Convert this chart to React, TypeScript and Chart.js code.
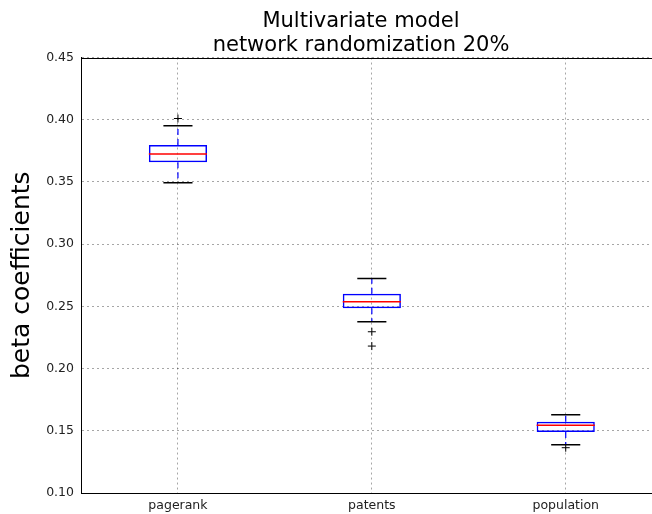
import React, { useEffect, useRef } from "react";
import { Chart, registerables } from "chart.js";

Chart.register(...registerables);

const categories = ["pagerank", "patents", "population"];
const q1 = [0.3658, 0.2484, 0.149];
const medians = [0.3724, 0.2537, 0.1544];
const q3 = [0.3797, 0.2601, 0.1573];
const whiskerLow = [0.3494, 0.2376, 0.1388];
const whiskerHigh = [0.3952, 0.2725, 0.1629];
const outlierCategory = [0, 1, 1, 2];
const outlierValues = [0.401, 0.2296, 0.2181, 0.1364];
const yTicks = [0.1, 0.15, 0.2, 0.25, 0.3, 0.35, 0.4, 0.45];

const FONT = "'DejaVu Sans', sans-serif";

const boxPlugin = {
  id: "boxParts",
  afterDatasetsDraw(chart: any) {
    const ctx = chart.ctx;
    const xs = chart.scales.x;
    const ys = chart.scales.y;
    const meta = chart.getDatasetMeta(0);
    ctx.save();
    categories.forEach((_, i) => {
      const bar: any = meta.data[i];
      const cx = xs.getPixelForValue(i + 1);
      const half = bar ? bar.width / 2 : 29;
      const capHalf = half / 2;
      ctx.strokeStyle = "#0000ff";
      ctx.lineWidth = 1.2;
      ctx.setLineDash([6, 4]);
      ctx.beginPath();
      ctx.moveTo(cx, ys.getPixelForValue(q3[i]));
      ctx.lineTo(cx, ys.getPixelForValue(whiskerHigh[i]));
      ctx.moveTo(cx, ys.getPixelForValue(q1[i]));
      ctx.lineTo(cx, ys.getPixelForValue(whiskerLow[i]));
      ctx.stroke();
      ctx.setLineDash([]);
      ctx.strokeStyle = "#000000";
      ctx.lineWidth = 1.5;
      ctx.beginPath();
      const yh = ys.getPixelForValue(whiskerHigh[i]);
      const yl = ys.getPixelForValue(whiskerLow[i]);
      ctx.moveTo(cx - capHalf, yh);
      ctx.lineTo(cx + capHalf, yh);
      ctx.moveTo(cx - capHalf, yl);
      ctx.lineTo(cx + capHalf, yl);
      ctx.stroke();
      ctx.strokeStyle = "#ff0000";
      ctx.lineWidth = 1.5;
      ctx.beginPath();
      const ym = ys.getPixelForValue(medians[i]);
      ctx.moveTo(cx - half, ym);
      ctx.lineTo(cx + half, ym);
      ctx.stroke();
    });
    ctx.restore();
  },
  afterDraw(chart: any) {
    const { ctx, chartArea } = chart;
    ctx.save();
    ctx.strokeStyle = "#000";
    ctx.lineWidth = 1;
    ctx.strokeRect(
      Math.round(chartArea.left) + 0.5,
      Math.round(chartArea.top) + 0.5,
      Math.round(chartArea.right - chartArea.left),
      Math.round(chartArea.bottom - chartArea.top)
    );
    ctx.restore();
  },
};

export default function App() {
  const ref = useRef<HTMLCanvasElement | null>(null);
  useEffect(() => {
    if (!ref.current) return;
    const chart = new Chart(ref.current, {
      type: "bar",
      data: {
        datasets: [
          {
            type: "bar",
            data: categories.map((_, i) => ({ x: i + 1, y: [q1[i], q3[i]] })) as any,
            backgroundColor: "rgba(0,0,0,0)",
            borderColor: "#0000ff",
            borderWidth: 1.5,
            borderSkipped: false,
            barPercentage: 0.3,
            categoryPercentage: 1,
          },
          {
            type: "scatter",
            data: outlierValues.map((v, i) => ({ x: outlierCategory[i] + 1, y: v })),
            pointStyle: "cross",
            pointRadius: 4,
            borderColor: "#000",
            backgroundColor: "#000",
            borderWidth: 1,
          } as any,
        ],
      },
      options: {
        animation: false,
        responsive: false,
        events: [],
        layout: { padding: 0, autoPadding: false },
        plugins: {
          legend: { display: false },
          tooltip: { enabled: false },
          title: {
            display: true,
            text: ["Multivariate model", "network randomization 20%"],
            color: "#000",
            font: { family: FONT, size: 21, weight: "normal", lineHeight: 1.12 },
            padding: { top: 10, bottom: 0.5 },
          },
        },
        scales: {
          x: {
            type: "linear",
            offset: false,
            min: 0.5,
            max: 3.806,
            afterBuildTicks: (scale: any) => {
              scale.ticks = categories.map((_, i) => ({ value: i + 1 }));
            },
            afterFit: (scale: any) => {
              scale.height = 21;
            },
            ticks: {
              callback: (v: any) => categories[Number(v) - 1] ?? "",
              color: "#222",
              font: { family: FONT, size: 12.5 },
              padding: 5,
              maxRotation: 0,
              autoSkip: false,
            },
            grid: {
              offset: false,
              color: "rgba(0,0,0,0.35)",
              lineWidth: 1,
              drawTicks: false,
            },
            border: { display: true, color: "#000", width: 1, dash: [2, 3] as any },
          },
          y: {
            type: "linear",
            min: 0.1,
            max: 0.45,
            afterBuildTicks: (scale: any) => {
              scale.ticks = yTicks.map((v) => ({ value: v }));
            },
            afterFit: (scale: any) => {
              scale.width = 81;
            },
            ticks: {
              callback: (v: any) => Number(v).toFixed(2),
              color: "#222",
              font: { family: FONT, size: 12.5 },
              padding: 7,
            },
            grid: {
              color: "rgba(0,0,0,0.35)",
              lineWidth: 1,
              drawTicks: false,
            },
            border: { display: true, color: "#000", width: 1, dash: [2, 3] as any },
            title: {
              display: true,
              text: "beta coefficients",
              color: "#000",
              font: { family: FONT, size: 25, weight: "normal" },
              padding: { top: 7, bottom: 0 },
            },
          },
        },
      } as any,
      plugins: [boxPlugin],
    });
    return () => chart.destroy();
  }, []);
  return (
    <div
      style={{
        position: "fixed",
        left: 0,
        top: 0,
        width: 652,
        height: 514,
        overflow: "hidden",
        background: "#fff",
      }}
    >
      <canvas ref={ref} width={722} height={514} style={{ display: "block" }} />
    </div>
  );
}
